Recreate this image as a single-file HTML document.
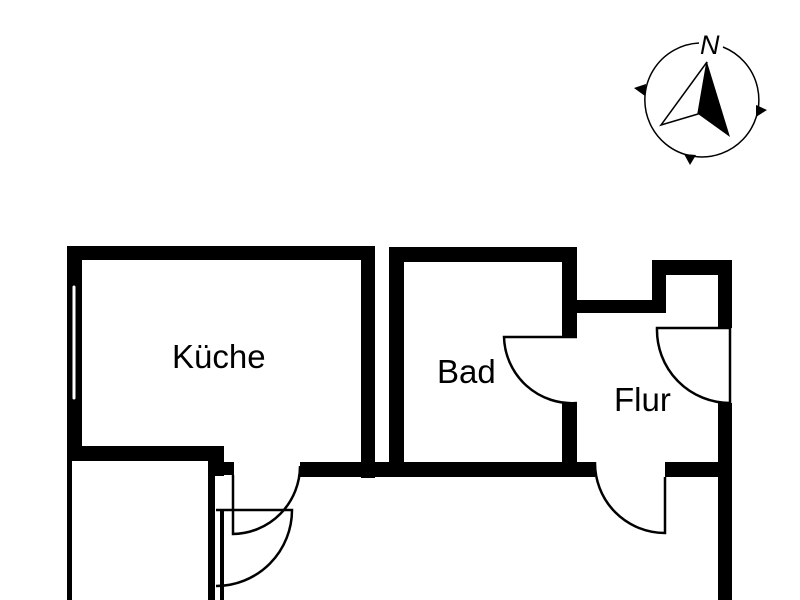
<!DOCTYPE html>
<html><head><meta charset="utf-8"><style>html,body{margin:0;padding:0;background:#fff}svg{display:block}</style></head>
<body>
<svg width="800" height="600" viewBox="0 0 800 600" xmlns="http://www.w3.org/2000/svg">
<rect width="800" height="600" fill="#fff"/>
<g fill="#000">
<rect x="67" y="246" width="308" height="14"/>
<rect x="67" y="246" width="15" height="214"/>
<rect x="361" y="246" width="14" height="232"/>
<rect x="67" y="446" width="157" height="15"/>
<rect x="208" y="446" width="16" height="30"/>
<rect x="208" y="462" width="26" height="13"/>
<rect x="208" y="462" width="7" height="138"/>
<rect x="220" y="510" width="4" height="90"/>
<rect x="67" y="460" width="5" height="140"/>
<rect x="300" y="462" width="295" height="15"/>
<rect x="389" y="247" width="188" height="15"/>
<rect x="389" y="247" width="15" height="230"/>
<rect x="562" y="247" width="15" height="90"/>
<rect x="562" y="403" width="15" height="74"/>
<rect x="577" y="300" width="89" height="13"/>
<rect x="652" y="260" width="80" height="15"/>
<rect x="652" y="260" width="14" height="53"/>
<rect x="718" y="260" width="14" height="68"/>
<rect x="718" y="403" width="14" height="197"/>
<rect x="665" y="462" width="60" height="15"/>
</g>
<line x1="74" y1="287" x2="74" y2="398" stroke="#fff" stroke-width="3" stroke-linecap="round"/>
<g fill="none" stroke="#000" stroke-width="2.5">
<path d="M233 475 V534 A68 68 0 0 0 300 466"/>
<path d="M216 510 H292 A76 76 0 0 1 216 586"/>
<path d="M577 337 H504 A68 68 0 0 0 577 403"/>
<path d="M730 328 H657 A73 73 0 0 0 730 403 Z"/>
<path d="M665 477 V533 A70 70 0 0 1 595 462"/>
</g>
<g font-family="'Liberation Sans', sans-serif" font-size="33" fill="#000">
<text x="172" y="368">Küche</text>
<text x="437" y="383">Bad</text>
<text x="614" y="411">Flur</text>
</g>
<g>
<path d="M699 43 A57 57 0 1 0 723 47" fill="none" stroke="#000" stroke-width="1.5"/>
<text x="700" y="54" font-family="'Liberation Sans', sans-serif" font-style="italic" font-size="27" fill="#000">N</text>
<polygon points="707,62 661,125 698,114" fill="#fff" stroke="#000" stroke-width="1.5"/>
<polygon points="707,62 698,114 730,137" fill="#000"/>
<polygon points="634,88 646,84 645,96" fill="#000"/>
<polygon points="767,110 756,105 756,117" fill="#000"/>
<polygon points="690,165 684,154 696,155" fill="#000"/>
</g>
</svg>
</body></html>
